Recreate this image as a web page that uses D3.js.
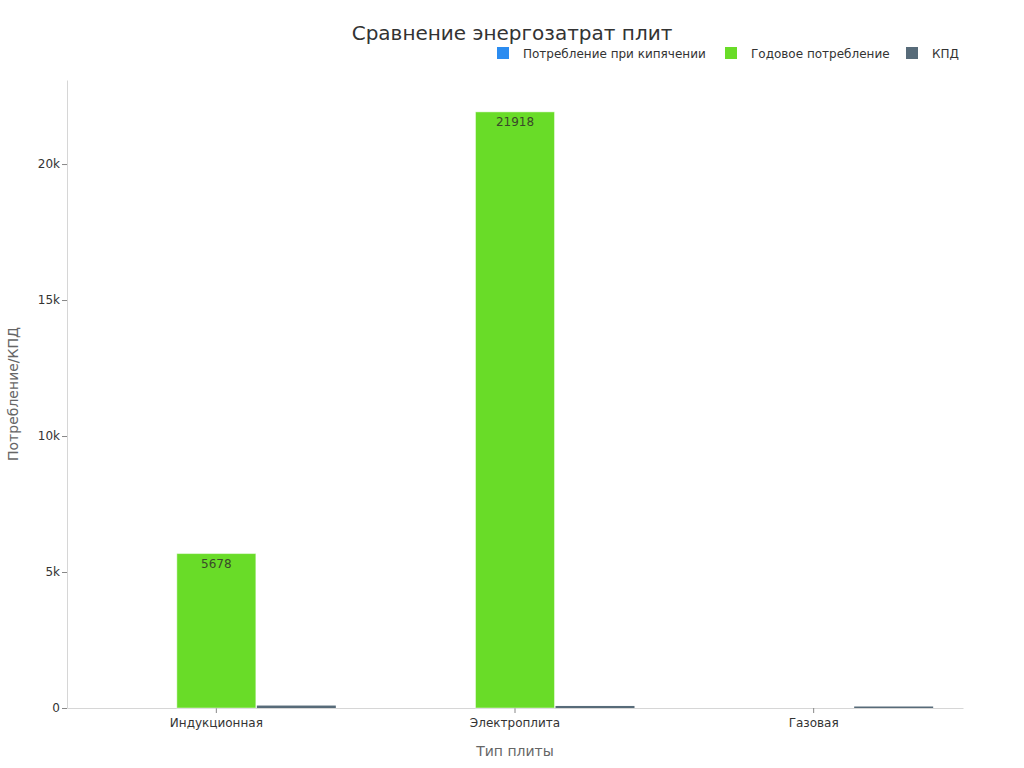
<!DOCTYPE html>
<html>
<head>
<meta charset="utf-8">
<script src="https://d3js.org/d3.v7.min.js"></script>
<style>
  body { margin: 0; background: #fff; }
  text { font-family: "DejaVu Sans", sans-serif; }
</style>
</head>
<body>
<div id="chart"></div>
<script>
// data
var categories = ["Индукционная", "Электроплита", "Газовая"];
var seriesNames = ["Потребление при кипячении", "Годовое потребление", "КПД"];
var boilValues = [0.15, 0.2, 0.25];
var yearValues = [5678, 21918, 0];
var effValues = [90, 75, 55];
var seriesColors = ["#2b8cf0", "#69dc28", "#576b79"];
var yTicks = [0, 5000, 10000, 15000, 20000];

var width = 1024, height = 768;
var margin = {top: 80, left: 67, right: 61, bottom: 60};
var innerW = width - margin.left - margin.right;
var innerH = height - margin.top - margin.bottom;

var svg = d3.select("#chart")
  .append("svg")
    .attr("width", width)
    .attr("height", height);

var g = svg.append("g")
    .attr("transform", "translate(" + margin.left + "," + margin.top + ")");

var rows = categories.map(function(c, i) {
  return {cat: c, values: [boilValues[i], yearValues[i], effValues[i]]};
});

var x0 = d3.scaleBand()
  .domain(categories)
  .range([0, innerW])
  .padding(0);

var x1 = d3.scaleBand()
  .domain(seriesNames)
  .range([0, x0.bandwidth()])
  .paddingOuter((x0.bandwidth() / 80 - 3) / 2)
  .paddingInner(0);

var y = d3.scaleLinear()
  .domain([0, 23090])
  .range([innerH, 0]);

var color = d3.scaleOrdinal().domain(seriesNames).range(seriesColors);

// axes
var yAxis = g.append("g")
  .call(d3.axisLeft(y).tickValues(yTicks).tickFormat(d3.format("~s")).tickSize(5).tickSizeOuter(0));
yAxis.select(".domain").attr("stroke", "#d6d6d6");
yAxis.selectAll(".tick line").attr("stroke", "#888");
yAxis.selectAll(".tick text").attr("fill", "#333").style("font-size", "12px").attr("x", -7);

var xAxis = g.append("g")
  .attr("transform", "translate(0," + innerH + ")")
  .call(d3.axisBottom(x0).tickSize(5).tickSizeOuter(0));
xAxis.select(".domain").attr("stroke", "#d6d6d6");
xAxis.selectAll(".tick line").attr("stroke", "#888");
xAxis.selectAll(".tick text").attr("fill", "#333").style("font-size", "12px").attr("y", 10);

// bars
var groups = g.selectAll(".grp")
  .data(rows)
  .enter()
  .append("g")
    .attr("transform", function(d) { return "translate(" + x0(d.cat) + ",0)"; });

groups.selectAll("rect")
  .data(function(d) { return d.values.map(function(v, i) { return {key: seriesNames[i], value: v}; }); })
  .enter()
  .append("rect")
    .attr("x", function(d) { return x1(d.key) + 0.5; })
    .attr("width", x1.bandwidth() - 1)
    .attr("y", function(d) { return y(d.value); })
    .attr("height", function(d) { return innerH - y(d.value); })
    .attr("fill", function(d) { return color(d.key); })
    .attr("stroke", function(d) { return innerH - y(d.value) > 4 ? "rgba(255,255,255,0.45)" : "none"; })
    .attr("stroke-width", 1);

// value labels on annual bars
groups.filter(function(d) { return d.values[1] > 0; })
  .append("text")
    .attr("x", x1(seriesNames[1]) + x1.bandwidth() / 2)
    .attr("y", function(d) { return y(d.values[1]) + 14; })
    .attr("text-anchor", "middle")
    .style("font-size", "12px")
    .attr("fill", "#3a4a2a")
    .text(function(d) { return d.values[1]; });

// title
svg.append("text")
    .attr("x", 512)
    .attr("y", 40)
    .attr("text-anchor", "middle")
    .style("font-size", "20px")
    .attr("fill", "#333")
    .text("Сравнение энергозатрат плит");

// legend
var legendX = [497, 725, 906];
var legend = svg.selectAll(".legend")
  .data(seriesNames)
  .enter()
  .append("g")
    .attr("transform", function(d, i) { return "translate(" + legendX[i] + ",47)"; });
legend.append("rect")
    .attr("width", 12)
    .attr("height", 12)
    .attr("fill", function(d) { return color(d); });
legend.append("text")
    .attr("x", 26)
    .attr("y", 11)
    .style("font-size", "12px")
    .attr("fill", "#333")
    .text(function(d) { return d; });

// axis titles
svg.append("text")
    .attr("transform", "translate(18," + (margin.top + innerH / 2) + ") rotate(-90)")
    .attr("text-anchor", "middle")
    .style("font-size", "14px")
    .attr("fill", "#666")
    .text("Потребление/КПД");

svg.append("text")
    .attr("x", margin.left + innerW / 2)
    .attr("y", 756)
    .attr("text-anchor", "middle")
    .style("font-size", "14px")
    .attr("fill", "#666")
    .text("Тип плиты");
</script>
</body>
</html>
